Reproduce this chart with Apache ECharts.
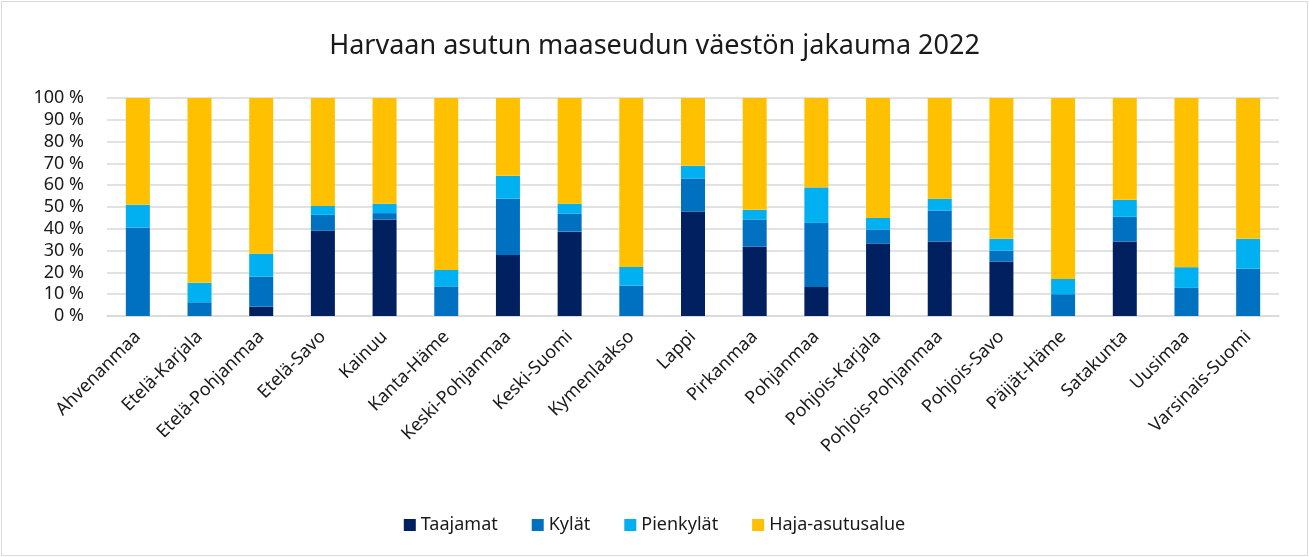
<!DOCTYPE html>
<html>
<head>
<meta charset="utf-8">
<script src="https://cdn.jsdelivr.net/npm/echarts@6/dist/echarts.min.js"></script>
<style>
  html, body { margin: 0; padding: 0; background: #fff; }
  #chart { position: absolute; left: 1px; top: 1px; width: 1305px; height: 553px; border: 1px solid #d9d9d9; }
</style>
</head>
<body>
<div id="chart"></div>
<script>
var regions = ['Ahvenanmaa', 'Etelä-Karjala', 'Etelä-Pohjanmaa', 'Etelä-Savo', 'Kainuu', 'Kanta-Häme',
    'Keski-Pohjanmaa', 'Keski-Suomi', 'Kymenlaakso', 'Lappi', 'Pirkanmaa', 'Pohjanmaa', 'Pohjois-Karjala',
    'Pohjois-Pohjanmaa', 'Pohjois-Savo', 'Päijät-Häme', 'Satakunta', 'Uusimaa', 'Varsinais-Suomi'];
var taajamat    = [0, 0, 4.3, 39.2, 44.3, 0, 28.0, 38.7, 0, 47.9, 31.9, 13.3, 33.2, 34.2, 25.0, 0, 34.2, 0, 0];
var kylat       = [40.6, 6.3, 13.8, 7.2, 2.9, 13.6, 25.8, 8.2, 13.9, 15.2, 12.4, 29.4, 6.5, 14.2, 5.0, 10.0, 11.3, 12.9, 21.7];
var pienkylat   = [10.4, 8.9, 10.5, 4.1, 4.3, 7.5, 10.5, 4.6, 8.6, 5.8, 4.4, 16.3, 5.3, 5.4, 5.4, 7.0, 7.8, 9.5, 13.7];
var haja        = [49.0, 84.8, 71.4, 49.5, 48.5, 78.9, 35.7, 48.5, 77.5, 31.1, 51.3, 41.0, 55.0, 46.2, 64.6, 83.0, 46.7, 77.6, 64.6];

var font = 'Noto Sans';
var myChart = echarts.init(document.getElementById('chart'));

function bar(name, data, color) {
    return {
        name: name,
        type: 'bar',
        stack: 'total',
        barWidth: 24,
        data: data,
        itemStyle: { color: color },
        emphasis: { disabled: true }
    };
}

var option = {
    animation: false,
    textStyle: { fontFamily: font },
    title: {
        text: 'Harvaan asutun maaseudun väestön jakauma 2022',
        left: 'center',
        top: 26,
        textStyle: { fontFamily: font, fontSize: 27, fontWeight: 'normal', color: '#1a1a1a' }
    },
    legend: {
        bottom: 16,
        left: 'center',
        itemWidth: 12,
        itemHeight: 12,
        itemGap: 34,
        icon: 'rect',
        textStyle: { fontFamily: font, fontSize: 18, color: '#1a1a1a' },
        data: ['Taajamat', 'Kylät', 'Pienkylät', 'Haja-asutusalue']
    },
    grid: {
        left: 105,
        right: 28,
        top: 96,
        height: 218
    },
    xAxis: {
        type: 'category',
        data: regions,
        axisLine: { lineStyle: { color: '#d9d9d9', width: 1.5 } },
        axisTick: { show: false },
        axisLabel: {
            rotate: 45,
            interval: 0,
            margin: 18,
            fontSize: 18,
            color: '#1a1a1a',
            fontFamily: font
        }
    },
    yAxis: {
        type: 'value',
        min: 0,
        max: 100,
        interval: 10,
        axisLine: { show: false },
        axisTick: { show: false },
        splitLine: { lineStyle: { color: '#d9d9d9', width: 1.5 } },
        axisLabel: {
            fontSize: 18,
            color: '#1a1a1a',
            fontFamily: font,
            margin: 23,
            formatter: '{value} %'
        }
    },
    series: [
        bar('Taajamat', taajamat, '#002060'),
        bar('Kylät', kylat, '#0070c0'),
        bar('Pienkylät', pienkylat, '#00b0f0'),
        bar('Haja-asutusalue', haja, '#ffc000')
    ]
};
myChart.setOption(option);
</script>
</body>
</html>
